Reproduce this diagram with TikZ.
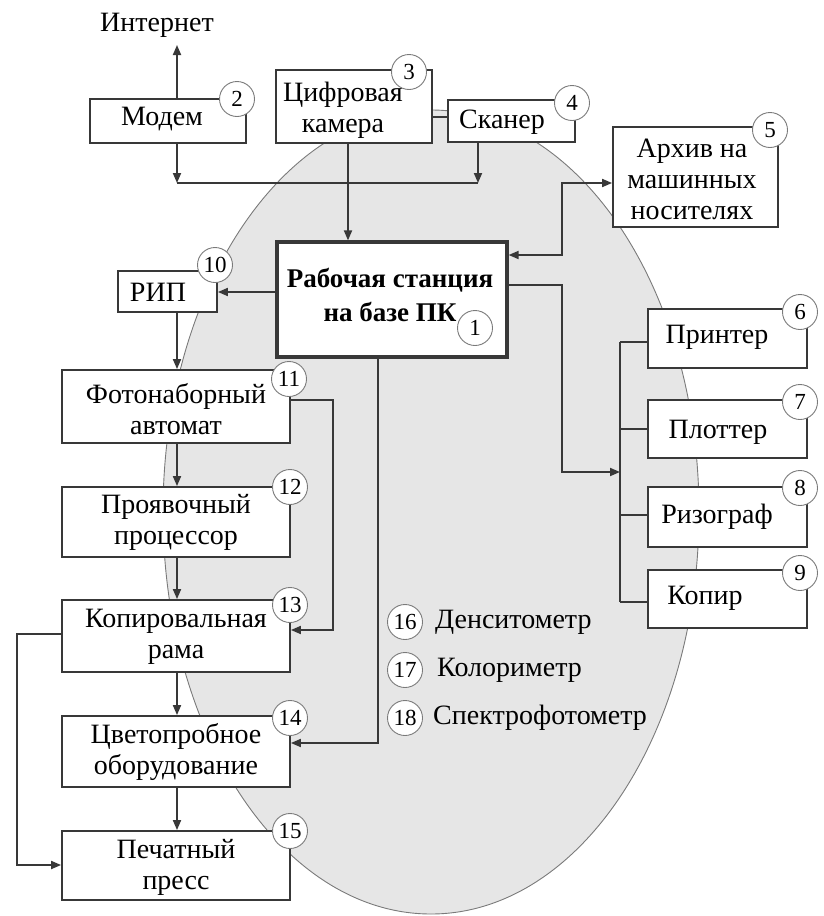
\documentclass[tikz,border=0pt]{standalone}
\usepackage{fontspec}
\setmainfont{Liberation Serif}
\usetikzlibrary{arrows.meta}
\definecolor{lc}{HTML}{383838}
\definecolor{ellfill}{HTML}{E6E6E6}
\definecolor{ellline}{HTML}{7A7A7A}
\begin{document}
\begin{tikzpicture}[x=1pt,y=-1pt,
  box/.style={draw=lc, line width=1.8pt, fill=white, inner sep=0pt},
  wsbox/.style={draw=lc, line width=3.2pt, fill=white, inner sep=0pt},
  num/.style={circle, draw=ellline, line width=0.9pt, fill=white, minimum size=35pt, inner sep=0pt, font=\fontsize{23}{23}\selectfont},
  lbl/.style={font=\fontsize{28}{31}\selectfont, align=center, inner sep=0pt},
  wslbl/.style={font=\fontsize{27}{34}\selectfont\bfseries, align=center, inner sep=0pt},
  line/.style={draw=lc, line width=1.8pt},
  conn/.style={line, -{Triangle[length=10pt,width=8pt]}},
  dconn/.style={line, {Triangle[length=10pt,width=8pt]}-{Triangle[length=10pt,width=8pt]}},
]
\useasboundingbox (0,0) rectangle (823,916);
% ellipse background
\path[fill=ellfill, draw=ellline, line width=0.9pt] (431,512) ellipse [x radius=268pt, y radius=402pt];

% boxes
\node[box, minimum width=156pt, minimum height=44pt] (modem) at (168,121) {};
\node[box, minimum width=156pt, minimum height=73pt] (camera) at (354,106.5) {};
\node[box, minimum width=127pt, minimum height=42pt] (scanner) at (511.5,121) {};
\node[box, minimum width=165pt, minimum height=100pt] (archive) at (695.5,177) {};
\node[wsbox, minimum width=230pt, minimum height=115pt] (ws) at (392,299.5) {};
\node[box, minimum width=99pt, minimum height=41pt] (rip) at (167.5,291.5) {};
\node[box, minimum width=228pt, minimum height=73pt] (photo) at (176,406.5) {};
\node[box, minimum width=228pt, minimum height=70pt] (proc) at (176,522) {};
\node[box, minimum width=228pt, minimum height=72pt] (copy) at (176,636) {};
\node[box, minimum width=228pt, minimum height=71pt] (proof) at (176,751.5) {};
\node[box, minimum width=228pt, minimum height=69pt] (press) at (176,865.5) {};
\node[box, minimum width=159pt, minimum height=59pt] (printer) at (727.5,338.5) {};
\node[box, minimum width=159pt, minimum height=58pt] (plotter) at (727.5,429) {};
\node[box, minimum width=159pt, minimum height=60pt] (rizo) at (727.5,517) {};
\node[box, minimum width=159pt, minimum height=58pt] (copier) at (727.5,599) {};

% coordinates
\coordinate (inet) at (177,45);
\coordinate (busL) at (177,183);
\coordinate (busR) at (478,183);
\coordinate (c3) at (348,0);
\coordinate (stub) at (0,117);
\coordinate (a1) at (562,255);
\coordinate (a2) at (562,183);
\coordinate (r1) at (0,292);
\coordinate (cx) at (177,0);
\coordinate (p1) at (333,400);
\coordinate (p2) at (333,630);
\coordinate (q1) at (17,634);
\coordinate (q2) at (17,865);
\coordinate (w1) at (378,743);
\coordinate (b1) at (562,285);
\coordinate (b2) at (562,472);
\coordinate (b3) at (620,472);
\coordinate (bt) at (620,342);
\coordinate (bpl) at (620,429);
\coordinate (bri) at (620,515);
\coordinate (bb) at (620,602);

% connectors
\draw[conn] (modem.north -| inet) -- (inet);
\draw[line] (busL) -- (busR);
\draw[conn] (modem.south -| busL) -- (busL);
\draw[conn] (scanner.south -| busR) -- (busR);
\draw[conn] (camera.south -| c3) -- (ws.north -| c3);
\draw[line] (camera.east |- stub) -- (scanner.west |- stub);
\draw[dconn] (ws.east |- a1) -- (a1) -- (a2) -- (archive.west |- a2);
\draw[conn] (ws.west |- r1) -- (rip.east |- r1);
\draw[conn] (rip.south -| cx) -- (photo.north -| cx);
\draw[conn] (photo.south -| cx) -- (proc.north -| cx);
\draw[conn] (proc.south -| cx) -- (copy.north -| cx);
\draw[conn] (copy.south -| cx) -- (proof.north -| cx);
\draw[conn] (proof.south -| cx) -- (press.north -| cx);
\draw[conn] (photo.east |- p1) -- (p1) -- (p2) -- (copy.east |- p2);
\draw[conn] (copy.west |- q1) -- (q1) -- (q2) -- (press.west |- q2);
\draw[conn] (ws.south -| w1) -- (w1) -- (proof.east |- w1);
\draw[conn] (ws.east |- b1) -- (b1) -- (b2) -- (b3);
\draw[line] (bt) -- (bb);
\draw[line] (bt) -- (printer.west |- bt);
\draw[line] (bpl) -- (plotter.west |- bpl);
\draw[line] (bri) -- (rizo.west |- bri);
\draw[line] (bb) -- (copier.west |- bb);

% texts
\node[lbl] (tinet) at (157,25) {Интернет};
\node[lbl] (tmodem) at (162,119) {Модем};
\node[lbl] (tcamera) at (343,110) {Цифровая\\камера};
\node[lbl] (tscanner) at (502,122) {Сканер};
\node[lbl] (tarchive) at (692,179) {Архив на\\машинных\\носителях};
\node[wslbl] (tws) at (390,295) {Рабочая станция\\на базе ПК};
\node[lbl] (trip) at (158,292) {РИП};
\node[lbl] (tphoto) at (176,409) {Фотонаборный\\автомат};
\node[lbl] (tproc) at (176,522) {Проявочный\\процессор};
\node[lbl] (tcopy) at (176,637) {Копировальная\\рама};
\node[lbl] (tproof) at (176,752) {Цветопробное\\оборудование};
\node[lbl] (tpress) at (176,867) {Печатный\\пресс};
\node[lbl] (tprinter) at (717,337) {Принтер};
\node[lbl] (tplotter) at (718,432) {Плоттер};
\node[lbl] (trizo) at (717,517) {Ризограф};
\node[lbl] (tcopier) at (705,598) {Копир};
\node[lbl, anchor=west] (t16) at (435,622) {Денситометр};
\node[lbl, anchor=west] (t17) at (437,670) {Колориметр};
\node[lbl, anchor=west] (t18) at (433,718) {Спектрофотометр};

% number circles
\node[num] (n1) at (475,328) {1};
\node[num] (n2) at (237,99) {2};
\node[num] (n3) at (409,72) {3};
\node[num] (n4) at (572,103) {4};
\node[num] (n5) at (770,130) {5};
\node[num] (n6) at (800,312) {6};
\node[num] (n7) at (800,402) {7};
\node[num] (n8) at (800,488) {8};
\node[num] (n9) at (800,573) {9};
\node[num] (n10) at (215,265) {10};
\node[num] (n11) at (289,379) {11};
\node[num] (n12) at (290,487) {12};
\node[num] (n13) at (290,605) {13};
\node[num] (n14) at (290,718) {14};
\node[num] (n15) at (290,831) {15};
\node[num] (n16) at (405,622) {16};
\node[num] (n17) at (405,670) {17};
\node[num] (n18) at (405,718) {18};
\end{tikzpicture}
\end{document}
